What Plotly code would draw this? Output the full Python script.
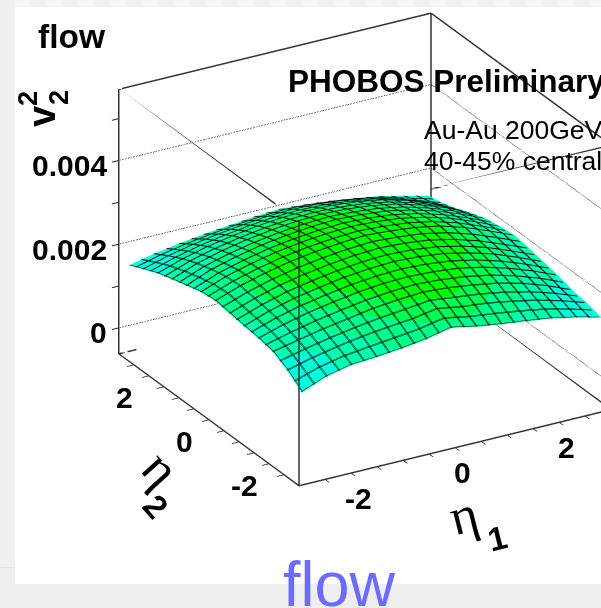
import plotly.graph_objects as go
import numpy as np

eta = [-2.88,-2.4,-1.92,-1.44,-0.96,-0.48,0,0.48,0.96,1.44,1.92,2.4,2.88]
v22_e5 = [
 [150,174,187,191,197,205,218,206,197,190,182,170,155],
 [178,193,205,215,222,228,238,228,222,212,200,184,165],
 [197,210,222,232,242,248,252,248,240,230,215,195,170],
 [204,222,236,247,256,262,264,261,255,243,226,205,180],
 [208,229,245,256,266,272,275,272,265,252,235,212,187],
 [213,234,251,263,272,279,282,279,272,259,241,218,194],
 [218,239,255,268,277,283,287,283,277,266,248,225,200],
 [214,236,252,265,274,280,283,280,274,262,245,222,196],
 [204,228,244,257,266,272,275,272,266,254,237,215,190],
 [194,217,233,245,254,260,263,260,254,243,226,205,178],
 [183,203,218,229,238,244,246,244,238,228,212,190,163],
 [168,185,198,208,216,222,224,222,216,207,192,172,152],
 [152,165,175,183,189,195,199,195,189,181,172,158,144],
]
color_level = [
 [0.0,0.0,0.8,1.2,1.5,1.9,2.2,1.9,1.6,1.2,0.8,0.2,0.0],
 [0.1,0.2,1.0,1.5,2.0,2.6,3.0,3.0,2.4,1.7,1.0,0.3,0.1],
 [0.7,1.1,1.6,2.1,2.9,3.6,3.8,3.8,3.2,2.3,1.5,0.5,0.2],
 [1.0,1.5,2.1,2.9,3.6,4.0,4.0,4.0,3.7,2.9,1.9,1.1,0.4],
 [1.3,1.9,3.0,3.6,4.0,4.0,4.0,4.0,4.0,3.4,2.4,1.3,0.8],
 [1.5,2.3,3.4,4.0,4.0,4.0,4.0,4.0,4.0,3.7,2.6,1.5,1.0],
 [1.6,2.4,3.5,3.9,4.0,4.0,4.0,4.0,4.0,3.6,2.5,1.6,1.1],
 [1.4,2.1,3.0,3.7,4.0,4.0,4.0,4.0,3.8,3.1,2.2,1.4,1.0],
 [1.0,1.6,2.3,3.0,3.7,4.0,4.0,3.8,3.3,2.5,1.8,1.2,0.9],
 [0.7,1.1,1.6,2.3,3.0,3.6,3.6,3.2,2.6,2.0,1.5,1.1,0.8],
 [0.3,0.7,1.1,1.6,2.1,2.5,2.5,2.3,2.0,1.6,1.3,1.0,0.7],
 [0.0,0.3,0.8,1.2,1.5,1.7,1.8,1.7,1.5,1.3,1.0,0.7,0.3],
 [0.0,0.1,0.6,1.0,1.2,1.4,1.4,1.3,1.2,1.0,0.8,0.4,0.0],
]
z_ticks = [0, 0.002, 0.004]
z_tick_text = ["0", "0.002", "0.004"]
z_all_ticks = [0, 0.001, 0.002, 0.003, 0.004, 0.005]
eta_ticks = [-2, 0, 2]
eta_tick_text = ["-2", "0", "2"]
eta_all_ticks = [-2.5,-2,-1.5,-1,-0.5,0,0.5,1,1.5,2,2.5]
XR=[-3,3]; YR=[-3,3]; ZR=[-0.00062,0.00570]

z = (np.array(v22_e5)*1e-5).tolist()
c=['#00ffdc','#00ffb0','#00ff8c','#00ff50','#00ff00']
colors=[[0,c[0]],[.1,c[0]],[.1,c[1]],[.3,c[1]],[.3,c[2]],[.5,c[2]],[.5,c[3]],[.7,c[3]],[.7,c[4]],[1,c[4]]]
flat=dict(ambient=1,diffuse=0,specular=0,roughness=1,fresnel=0)
def contours(start):
    return dict(
      x=dict(show=True,start=start,end=2.89,size=0.24,color='#000',width=9,highlight=False),
      y=dict(show=True,start=start,end=2.89,size=0.24,color='#000',width=9,highlight=False),
      z=dict(show=False,highlight=False))
fig=go.Figure()
fig.add_surface(x=eta,y=eta,z=z,surfacecolor=color_level,colorscale=colors,cmin=0,cmax=5,showscale=False,
    lighting=flat,contours=contours(-2.88),hoverinfo='skip')
fig.add_surface(x=eta,y=eta,z=z,surfacecolor=color_level,colorscale=colors,cmin=0,cmax=5,showscale=False,
    hidesurface=True,lighting=flat,contours=contours(-2.86),hoverinfo='skip')
def seg(xs,ys,zs,w=3,c='#333',dash='solid'):
    fig.add_scatter3d(x=xs,y=ys,z=zs,mode='lines',line=dict(color=c,width=w,dash=dash),showlegend=False,hoverinfo='skip')
x0,x1=XR;y0,y1=YR;z0,z1=ZR
for a,b in [((x0,y0),(x1,y0)),((x0,y1),(x1,y1)),((x0,y0),(x0,y1)),((x1,y0),(x1,y1))]:
    seg([a[0],b[0]],[a[1],b[1]],[z0,z0])
seg([x0,x1],[y1,y1],[z1,z1])
seg([x1,x1],[y0,y1],[z1,z1])
seg([x0,x0],[y1,-2.24],[z1,z1])
seg([-0.46,x1],[y0,y0],[z1,z1])
for p in [(x0,y0),(x0,y1),(x1,y0),(x1,y1)]:
    seg([p[0]]*2,[p[1]]*2,[z0,z1])
for t in z_ticks:
    seg([x0,x1],[y1,y1],[t,t],w=2,c='#000',dash='dot')
    seg([x1,x1],[y0,y1],[t,t],w=2,c='#000',dash='dot')
axis=dict(showgrid=False,showbackground=False,zeroline=False,showspikes=False,showline=True,linecolor='#333',linewidth=3,ticks='outside',ticklen=8,tickwidth=2,tickcolor='#222',
          showticklabels=False,title=dict(text=''))
txt=lambda t,x,y,s,b=False,a=0,fam='Liberation Sans',anchor='left':dict(text=t,x=x/601,y=1-y/608,xref='paper',yref='paper',showarrow=False,xanchor=anchor,yanchor='middle',textangle=a,font=dict(family=fam,size=s,color='#000',weight='bold' if b else 'normal'))
lab=dict(family='Liberation Sans',size=30,color='#000',weight='bold')
scene_ann=[]
for t,s in zip(z_ticks,z_tick_text):
    scene_ann.append(dict(x=x0,y=y1,z=t,text=s,showarrow=False,xanchor='right',yanchor='middle',xshift=-10,yshift=-5,font=lab))
for t,s in zip(eta_ticks,eta_tick_text):
    scene_ann.append(dict(x=t,y=y0,z=z0,text=s,showarrow=False,xanchor='center',yanchor='middle',xshift=7,yshift=-25,font=lab))
    scene_ann.append(dict(x=x0,y=t,z=z0,text=s,showarrow=False,xanchor='center',yanchor='middle',xshift=-24,yshift=-22,font=lab))
rect=lambda a,b,p,q,col:dict(type='rect',xref='paper',yref='paper',x0=a/601,x1=b/601,y0=1-q/608,y1=1-p/608,fillcolor=col,line=dict(width=0),layer='below')
stripe_edges=[15,30,46,62,78,94,110,126,142,158,174,190,206,222,238,254,270,286,302,318,334,350,366,382,398,414,430,446,462,478,494,510,526,542,558,574,590,601]
stripes=[rect(stripe_edges[i],stripe_edges[i+1],0,7,'#f6f6f6' if i%2==0 else '#f0f0f0') for i in range(len(stripe_edges)-1)]
fig.update_layout(width=601,height=608,margin=dict(l=0,r=0,t=0,b=0),paper_bgcolor='#eeeeee',showlegend=False,
  title=dict(text='flow',x=339/601,xanchor='center',y=1-584/608,yanchor='middle',font=dict(family='Liberation Sans',size=63,color='#6b6bff')),
  shapes=stripes+[rect(0,15,0,567,'#f0f0f0'),rect(0,15,567,568,'#e3e3e3'),rect(15,601,7,584,'#ffffff')],
  annotations=[txt('flow',36,36,33.5,True),txt('PHOBOS Preliminary',286,81,31.5,True),txt('Au-Au 200GeV',422,130,26.5),txt('40-45% central',422,161,26.5),
    txt('v',42,116,38,True,-90,anchor='center'),txt('2',28,99,27,True,-90,anchor='center'),txt('2',59,98,27,True,-90,anchor='center'),
    txt('η',463,515,52,False,-14,'Liberation Serif','center'),txt('1',497,538,33,True,-14,anchor='center'),
    txt('η',161,468,52,False,48,'Liberation Serif','center'),txt('2',156,506,33,True,48,anchor='center')],
  scene=dict(domain=dict(x=[0,1],y=[0,1]),aspectmode='manual',aspectratio=dict(x=1.186,y=1.186,z=0.96),annotations=scene_ann,
    camera=dict(projection=dict(type='orthographic'),up=dict(x=0,y=0,z=1),center=dict(x=-0.2218,y=0.0405,z=-0.1626),eye=dict(x=-0.986,y=-1.2835,z=0.550)),
    xaxis=dict(axis,range=XR,tickvals=eta_all_ticks),
    yaxis=dict(axis,range=YR,tickvals=eta_all_ticks),
    zaxis=dict(axis,range=ZR,tickvals=z_all_ticks)))
fig.write_html('out.html',config=dict(displayModeBar=False),post_script="document.body.style.margin='0';document.documentElement.style.background='#eeeeee';")
